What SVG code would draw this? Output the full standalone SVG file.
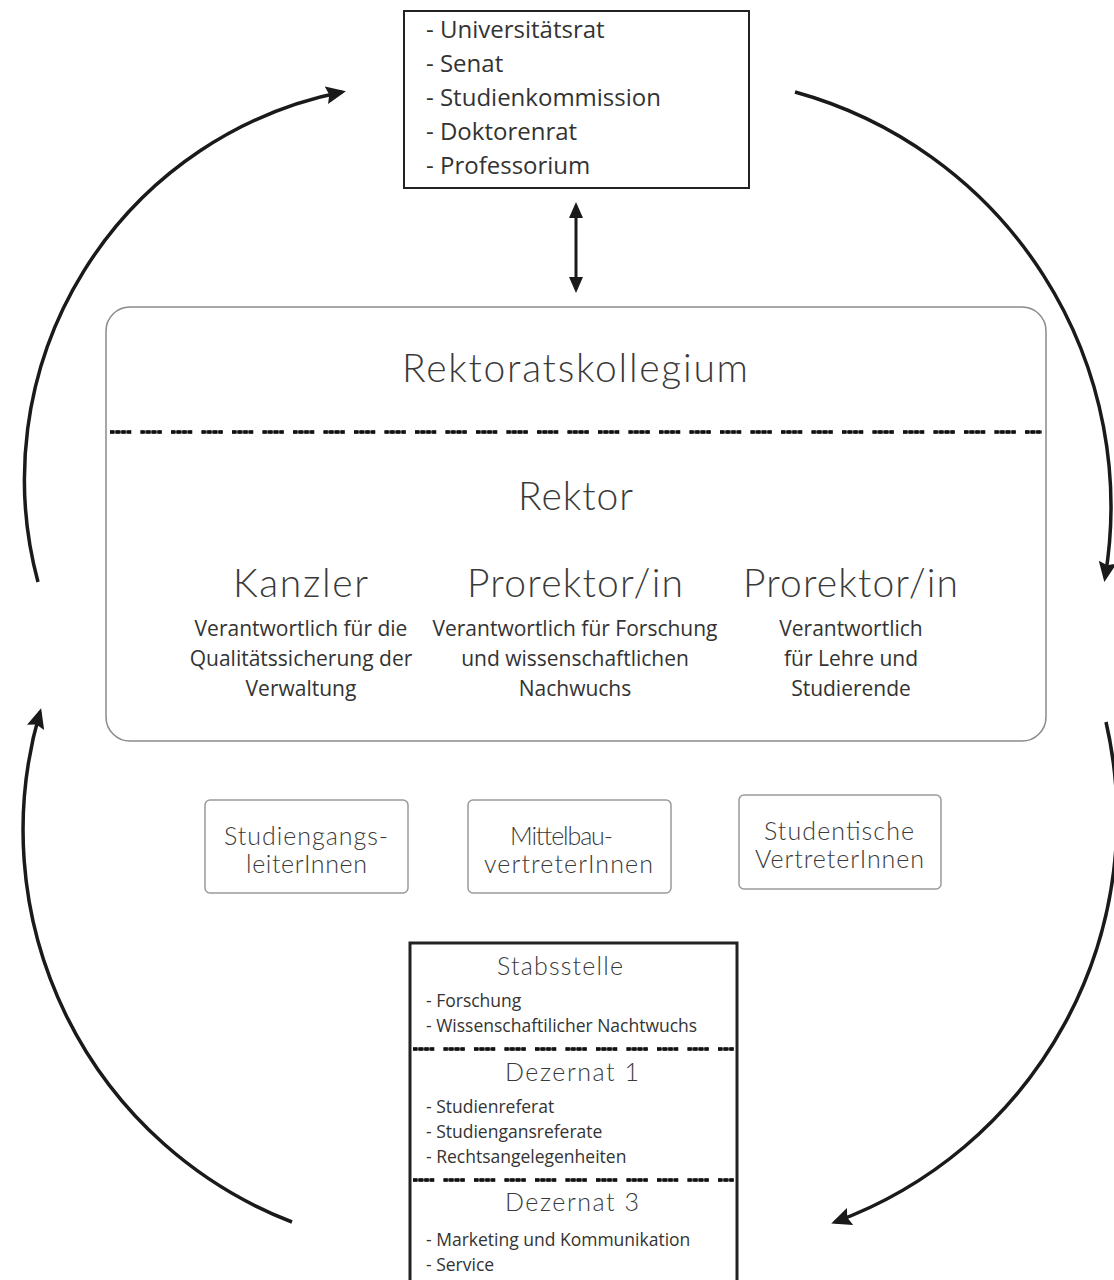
<svg xmlns="http://www.w3.org/2000/svg" width="1114" height="1280" viewBox="0 0 1114 1280">
<style>
.disp{font-family:"Lato","Inter","Liberation Sans",sans-serif;font-weight:300;fill:#3a3a3a}
.body{font-family:"Open Sans","Liberation Sans",sans-serif;fill:#333}
.sepbase{stroke:#555;stroke-width:3;stroke-dasharray:21 9.5;fill:none}
.sepdots{stroke:#111;stroke-width:3.4;stroke-dasharray:4.2 1.5 4.2 1.5 4.2 1.5 4.2 9.2;fill:none}
.arc{stroke:#1a1a1a;stroke-width:3.5;fill:none;marker-end:url(#ah)}
.small{fill:#fff;stroke:#9a9a9a;stroke-width:1.5}
</style>
<defs>
<marker id="ah" markerUnits="userSpaceOnUse" markerWidth="20" markerHeight="18" viewBox="0 0 20 18" refX="16" refY="9" orient="auto">
<path d="M0,0 L20,9 L0,18 L3,9 z" fill="#1a1a1a"/>
</marker>
<marker id="dh" markerUnits="userSpaceOnUse" markerWidth="16" markerHeight="14" viewBox="0 0 16 14" refX="12" refY="7" orient="auto-start-reverse">
<path d="M0,0 L16,7 L0,14 z" fill="#1a1a1a"/>
</marker>
</defs>
<rect width="1114" height="1280" fill="#fff"/>

<g id="connectors">
<path class="arc" d="M38,582 A 395 395 0 0 1 342,92"/>
<path class="arc" d="M795,92 A 430 430 0 0 1 1105,578"/>
<path class="arc" d="M1106,722 A 430 430 0 0 1 835,1222"/>
<path class="arc" d="M292,1222 A 420 420 0 0 1 40,712"/>
<line x1="576" y1="206" x2="576" y2="289" stroke="#1a1a1a" stroke-width="3" marker-start="url(#dh)" marker-end="url(#dh)"/>
</g>

<g id="gremien">
<rect x="404" y="11" width="345" height="177" fill="#fff" stroke="#222" stroke-width="2"/>
<text class="body" font-size="24" x="426" y="38">- Universitätsrat</text>
<text class="body" font-size="24" x="426" y="72">- Senat</text>
<text class="body" font-size="24" x="426" y="106">- Studienkommission</text>
<text class="body" font-size="24" x="426" y="140">- Doktorenrat</text>
<text class="body" font-size="24" x="426" y="174">- Professorium</text>
</g>

<g id="rektoratskollegium">
<rect x="106" y="307" width="940" height="434" rx="24" fill="#fff" stroke="#8a8a8a" stroke-width="1.5"/>
<text class="disp" font-size="39" x="402" y="382" textLength="346" lengthAdjust="spacing">Rektoratskollegium</text>
<line class="sepbase" x1="110" y1="432" x2="1042" y2="432"/>
<line class="sepdots" x1="110" y1="432" x2="1042" y2="432"/>
<text class="disp" font-size="39" x="518" y="510" textLength="115" lengthAdjust="spacing">Rektor</text>
</g>

<g id="kanzler">
<text class="disp" font-size="39" x="233" y="597" textLength="135" lengthAdjust="spacing">Kanzler</text>
<text class="body" font-size="21" x="301" y="636" text-anchor="middle">Verantwortlich für die</text>
<text class="body" font-size="21" x="301" y="666" text-anchor="middle">Qualitätssicherung der</text>
<text class="body" font-size="21" x="301" y="696" text-anchor="middle">Verwaltung</text>
</g>

<g id="prorektor-forschung">
<text class="disp" font-size="39" x="467" y="597" textLength="216" lengthAdjust="spacing">Prorektor/in</text>
<text class="body" font-size="21" x="575" y="636" text-anchor="middle">Verantwortlich für Forschung</text>
<text class="body" font-size="21" x="575" y="666" text-anchor="middle">und wissenschaftlichen</text>
<text class="body" font-size="21" x="575" y="696" text-anchor="middle">Nachwuchs</text>
</g>

<g id="prorektor-lehre">
<text class="disp" font-size="39" x="743" y="597" textLength="215" lengthAdjust="spacing">Prorektor/in</text>
<text class="body" font-size="21" x="851" y="636" text-anchor="middle">Verantwortlich</text>
<text class="body" font-size="21" x="851" y="666" text-anchor="middle">für Lehre und</text>
<text class="body" font-size="21" x="851" y="696" text-anchor="middle">Studierende</text>
</g>

<g id="studiengangsleiter">
<rect class="small" x="205" y="800" width="203" height="93" rx="5"/>
<text class="disp" font-size="25" x="224" y="845" textLength="164" lengthAdjust="spacing">Studiengangs-</text>
<text class="disp" font-size="25" x="246" y="873" textLength="121" lengthAdjust="spacing">leiterInnen</text>
</g>

<g id="mittelbau">
<rect class="small" x="468" y="800" width="203" height="93" rx="5"/>
<text class="disp" font-size="25" x="510" y="845" textLength="103" lengthAdjust="spacing">Mittelbau-</text>
<text class="disp" font-size="25" x="484" y="873" textLength="169" lengthAdjust="spacing">vertreterInnen</text>
</g>

<g id="studentische">
<rect class="small" x="739" y="795" width="202" height="94" rx="5"/>
<text class="disp" font-size="25" x="764" y="840" textLength="150" lengthAdjust="spacing">Studentische</text>
<text class="disp" font-size="25" x="755" y="868" textLength="169" lengthAdjust="spacing">VertreterInnen</text>
</g>

<g id="verwaltung">
<rect x="410" y="943" width="327" height="350" fill="#fff" stroke="#222" stroke-width="3"/>
<text class="disp" font-size="25" x="497" y="975" textLength="126" lengthAdjust="spacing">Stabsstelle</text>
<text class="body" font-size="17.5" x="426" y="1007">- Forschung</text>
<text class="body" font-size="17.5" x="426" y="1032">- Wissenschaftilicher Nachtwuchs</text>
<line class="sepbase" x1="413" y1="1049" x2="734" y2="1049"/>
<line class="sepdots" x1="413" y1="1049" x2="734" y2="1049"/>
<text class="disp" font-size="25" x="505" y="1081" textLength="134" lengthAdjust="spacing">Dezernat 1</text>
<text class="body" font-size="17.5" x="426" y="1113">- Studienreferat</text>
<text class="body" font-size="17.5" x="426" y="1138">- Studiengansreferate</text>
<text class="body" font-size="17.5" x="426" y="1163">- Rechtsangelegenheiten</text>
<line class="sepbase" x1="413" y1="1180" x2="734" y2="1180"/>
<line class="sepdots" x1="413" y1="1180" x2="734" y2="1180"/>
<text class="disp" font-size="25" x="505" y="1211" textLength="134" lengthAdjust="spacing">Dezernat 3</text>
<text class="body" font-size="17.5" x="426" y="1246">- Marketing und Kommunikation</text>
<text class="body" font-size="17.5" x="426" y="1271">- Service</text>
</g>
</svg>
